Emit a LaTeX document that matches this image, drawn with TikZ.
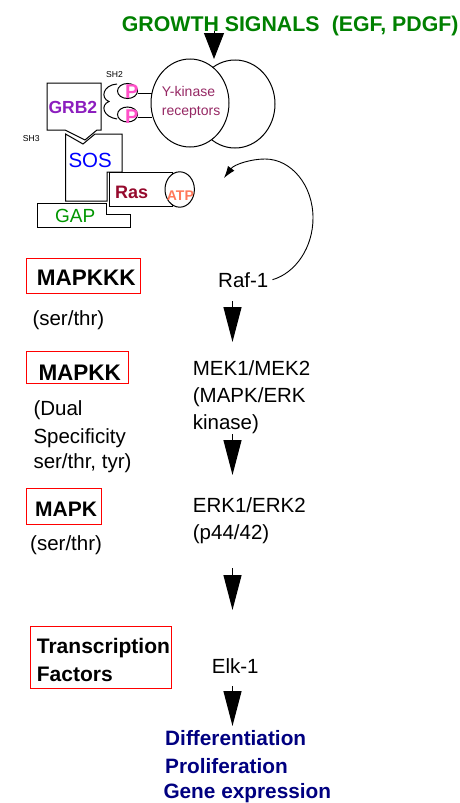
\documentclass[tikz,border=0pt]{standalone}
\usepackage{fontspec}
\setmainfont{Liberation Sans}
\usetikzlibrary{positioning,arrows.meta}
\definecolor{signalgreen}{RGB}{0,128,0}
\definecolor{grbpurple}{RGB}{140,30,190}
\definecolor{sosblue}{RGB}{0,0,255}
\definecolor{rasred}{RGB}{150,10,45}
\definecolor{atpsalmon}{RGB}{255,120,90}
\definecolor{gapgreen}{RGB}{0,150,0}
\definecolor{ppink}{RGB}{255,80,200}
\definecolor{kinasemaroon}{RGB}{150,40,100}
\definecolor{outnavy}{RGB}{0,0,128}
\tikzset{txt/.style={inner sep=0pt, anchor=base west, font=\fontsize{20.5}{25}\selectfont},
boldtxt/.style={inner sep=0pt, anchor=base west, font=\fontsize{#1}{#1}\selectfont\bfseries},
smalltxt/.style={inner sep=0pt, anchor=base west, font=\fontsize{#1}{#1}\selectfont},
redbox/.style={draw=red, line width=0.9pt},
protein/.style={draw=black, line width=1pt, fill=white},
bigarrow/.style={line width=1.2pt, -{Triangle[width=18pt,length=35pt]}},}

\begin{document}
\begin{tikzpicture}[x=1pt, y=-1pt]
\useasboundingbox (0,0) rectangle (459,803);
\draw[protein] (235,104) ellipse [x radius=40, y radius=44];
\draw[protein] (190,103) ellipse [x radius=39, y radius=44];
\draw[line width=1pt] (138,93) -- (152,93);
\draw[line width=1pt] (138,117) -- (152,117);
\draw[protein] (127.5,91) ellipse [x radius=10, y radius=7.5];
\draw[protein] (127.5,114.5) ellipse [x radius=10, y radius=7.5];
\draw[line width=1pt] (117,84) .. controls (103,85) and (100,98) .. (109,101.5)
  .. controls (100,105) and (103,117) .. (117,119);
\draw[protein] (65.5,134) -- (83,144) -- (95,134) -- (122,134) -- (122,172) -- (107,172)
  -- (107,201) -- (65.5,201) -- cycle;
\draw[protein] (47,83) -- (101,83) -- (101,130) -- (97,130) -- (85,140) -- (65,130)
  -- (47,130) -- cycle;
\draw[protein] (37.3,203.3) -- (106,203.3) -- (106,214.5) -- (130.5,214.5) -- (130.5,227)
  -- (37.3,227) -- cycle;
\draw[protein] (109.3,172.3) rectangle (172,206.7);
\draw[protein] (179.7,189.5) ellipse [x radius=14.7, y radius=17.7];

\node[boldtxt=21.3, text=signalgreen] (growth) at (121.7,31.7) {GROWTH SIGNALS\hspace{0.3em} (EGF, PDGF)};
\node[smalltxt=14, text=kinasemaroon] (ykin) at (161.7,96.5) {Y-kinase};
\node[smalltxt=14, text=kinasemaroon] (recep) at (161.7,115.5) {receptors};
\node[boldtxt=20, text=ppink, anchor=base] (p1) at (131.7,98.5) {P};
\node[boldtxt=20, text=ppink, anchor=base] (p2) at (131.7,123.5) {P};
\node[smalltxt=8.6] (sh2) at (106,77.7) {SH2};
\node[smalltxt=8.6] (sh3) at (22.7,141) {SH3};
\node[boldtxt=17.5, text=grbpurple] (grb) at (48.3,113.5) {GRB2};
\node[txt, text=sosblue] (sos) at (68.3,167.3) {SOS};
\node[boldtxt=18, text=rasred] (ras) at (115,198.3) {Ras};
\node[boldtxt=14, text=atpsalmon] (atp) at (166.7,200) {ATP};
\node[smalltxt=19, text=gapgreen] (gap) at (55,222.7) {GAP};

\node[txt] (raf) at (218,287) {Raf-1};
\node[txt] (mek) at (192.7,375) {MEK1/MEK2};
\node[txt] (mekb) at (192.7,402.5) {(MAPK/ERK};
\node[txt] (mekc) at (192.7,429) {kinase)};
\node[txt] (erk) at (192.7,512) {ERK1/ERK2};
\node[txt] (erkb) at (192.7,539) {(p44/42)};
\node[txt] (elk) at (211.7,673.3) {Elk-1};
\node[boldtxt=20.8, text=outnavy] (diff) at (165,745) {Differentiation};
\node[boldtxt=20.8, text=outnavy] (prolif) at (165,773) {Proliferation};
\node[boldtxt=20.8, text=outnavy] (gene) at (163.3,798) {Gene expression};

\draw[redbox] (26.7,258.3) rectangle (140,293.3);
\node[boldtxt=22.5] (mapkkk) at (36.7,285) {MAPKKK};
\node[txt] (sta) at (32.3,325) {(ser/thr)};
\draw[redbox] (26.7,351.7) rectangle (128.3,383.3);
\node[boldtxt=22.5] (mapkk) at (38.3,380) {MAPKK};
\node[txt] (dual) at (33.3,415) {(Dual};
\node[txt] (spec) at (33.3,443) {Specificity};
\node[txt] (styr) at (33.3,468.5) {ser/thr, tyr)};
\draw[redbox] (26.7,488.3) rectangle (101.7,524);
\node[boldtxt=21] (mapk) at (35,516.7) {MAPK};
\node[txt] (stb) at (30,550) {(ser/thr)};
\draw[redbox] (30.7,626) rectangle (171.7,688.3);
\node[boldtxt=21] (trans) at (36.7,653.3) {Transcription};
\node[boldtxt=21] (fact) at (36.7,681.7) {Factors};

\coordinate (gs) at (214,31);
\coordinate (ge) at (214,59);
\coordinate (ras back) at (224,178);
\coordinate (s1) at (232.5,301);
\coordinate (e1) at (232.5,342);
\coordinate (s2) at (232.5,434);
\coordinate (e2) at (232.5,475);
\coordinate (s3) at (232.5,568);
\coordinate (e3) at (232.5,610);
\coordinate (s4) at (232.5,686);
\coordinate (e4) at (232.5,726);
\draw[line width=1pt, -{Triangle[width=20pt,length=26pt]}] (gs) -- (ge);
\draw[line width=0.9pt, -{Latex[length=12pt,width=8pt]}] ([xshift=4pt]raf.east)
  .. controls (295.7,272.9) and (313,247.4) .. (313,218)
  .. controls (313,185.4) and (291.5,159) .. (265,159)
  .. controls (250.8,159) and (234,164.5) .. (ras back);
\draw[bigarrow] (s1) -- (e1);
\draw[bigarrow] (s2) -- (e2);
\draw[bigarrow] (s3) -- (e3);
\draw[bigarrow] (s4) -- (e4);
\end{tikzpicture}
\end{document}
